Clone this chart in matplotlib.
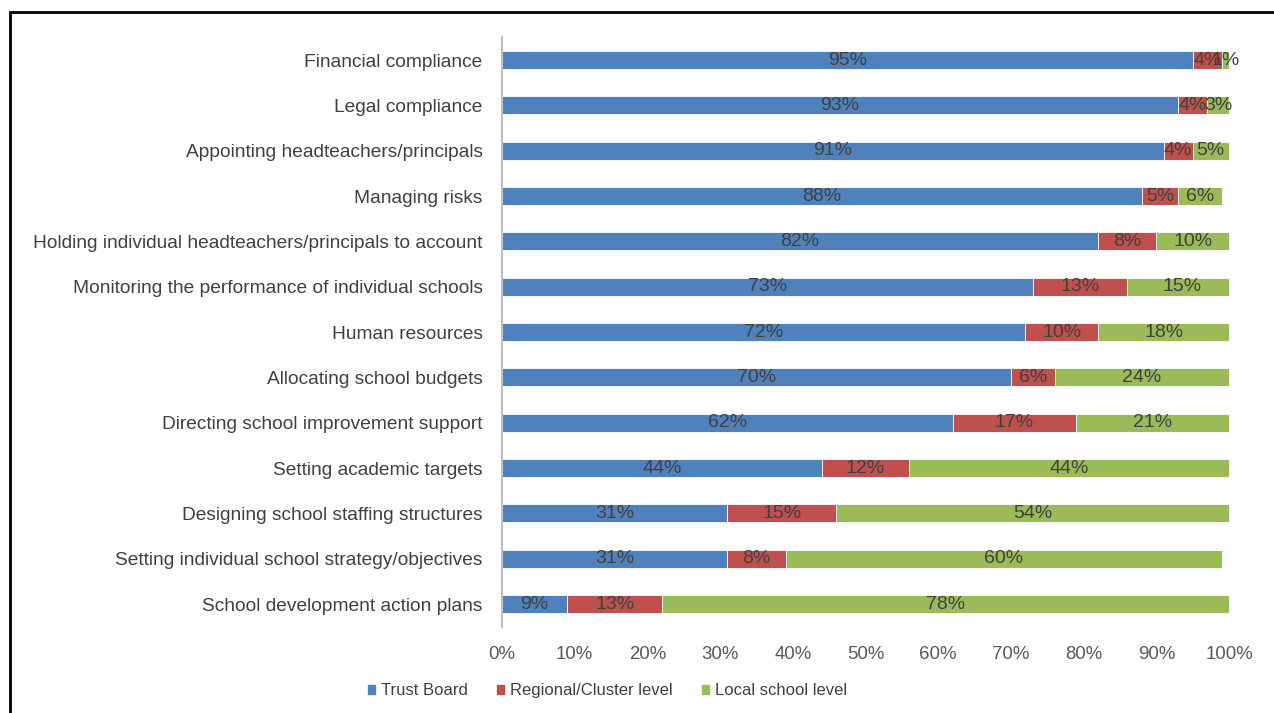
import matplotlib.pyplot as plt
from matplotlib.patches import Patch, Rectangle

plt.rcParams['font.family'] = ['Liberation Sans', 'DejaVu Sans']

categories = [
    "Financial compliance",
    "Legal compliance",
    "Appointing headteachers/principals",
    "Managing risks",
    "Holding individual headteachers/principals to account",
    "Monitoring the performance of individual schools",
    "Human resources",
    "Allocating school budgets",
    "Directing school improvement support",
    "Setting academic targets",
    "Designing school staffing structures",
    "Setting individual school strategy/objectives",
    "School development action plans",
]
trust_board = [95, 93, 91, 88, 82, 73, 72, 70, 62, 44, 31, 31, 9]
regional = [4, 4, 4, 5, 8, 13, 10, 6, 17, 12, 15, 8, 13]
local = [1, 3, 5, 6, 10, 15, 18, 24, 21, 44, 54, 60, 78]

series = [
    ("Trust Board", trust_board, "#4F81BD"),
    ("Regional/Cluster level", regional, "#C0504D"),
    ("Local school level", local, "#9BBB59"),
]

text_col = "#404040"
fig = plt.figure(figsize=(12.74, 7.13), dpi=100)
ax = fig.add_axes([0.394, 0.121, 0.5707, 0.8265])

y = list(range(len(categories)))
left = [0] * len(categories)
for name, vals, col in series:
    ax.barh(y, vals, left=left, height=0.4, color=col, edgecolor="white",
            linewidth=0.6, label=name)
    for yi, l, v in zip(y, left, vals):
        ax.text(l + v / 2, yi, f"{v}%", ha="center", va="center",
                fontsize=14, color=text_col)
    left = [a + b for a, b in zip(left, vals)]

ax.set_xlim(0, 100)
ax.set_ylim(len(categories) - 0.5, -0.5)
ax.set_yticks(y)
ax.set_yticklabels(categories, fontsize=13.8, color=text_col)
ax.set_xticks(range(0, 101, 10))
ax.set_xticklabels([f"{t}%" for t in range(0, 101, 10)], fontsize=13.4,
                   color="#595959")
ax.tick_params(axis="y", length=0, pad=14)
ax.tick_params(axis="x", length=0, pad=14)
for s in ["top", "right", "bottom"]:
    ax.spines[s].set_visible(False)
ax.spines["left"].set_color("#bfbfbf")
ax.spines["left"].set_linewidth(1.5)

handles = [Patch(color=c, label=n) for n, _, c in series]
fig.legend(handles=handles, loc="center", bbox_to_anchor=(0.477, 0.031),
           ncol=3, frameon=False, fontsize=12, handlelength=0.42,
           handleheight=0.42, handletextpad=0.35, columnspacing=1.75,
           labelcolor=text_col)

fig.patches.append(Rectangle((10 / 1274, -0.1), 1.2, 1.1 - 12 / 713,
                             transform=fig.transFigure, fill=False,
                             edgecolor="black", linewidth=2))

fig.savefig("out.png", dpi=100)
